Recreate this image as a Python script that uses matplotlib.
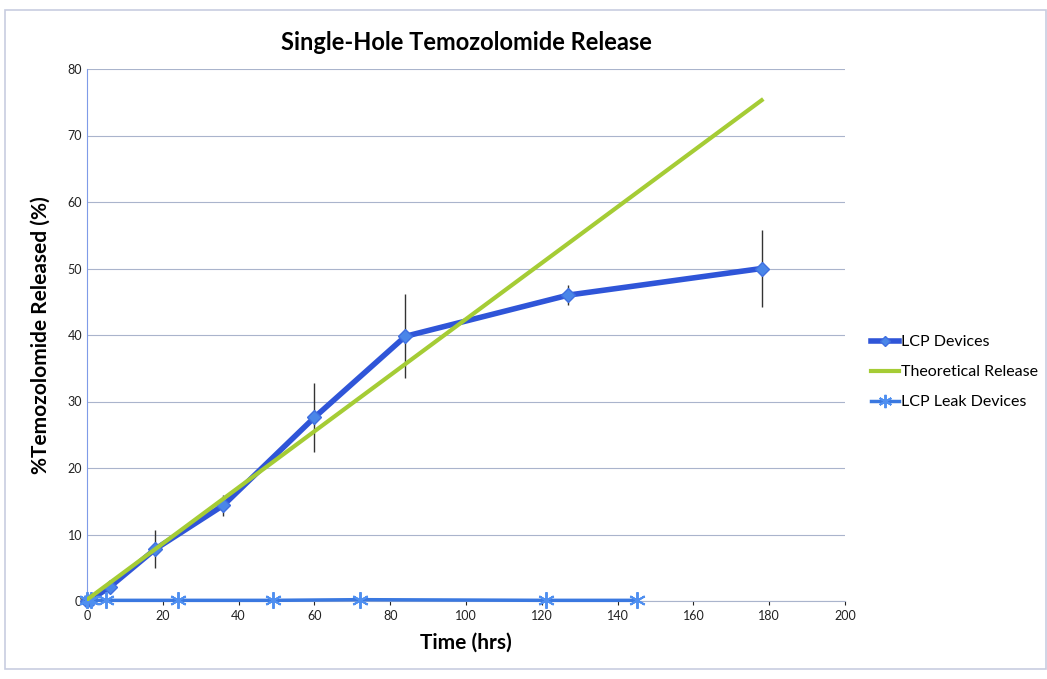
import matplotlib.pyplot as plt
from matplotlib.patches import Rectangle

# LCP devices (mean release with error bars)
lcp_time = [0, 1, 6, 18, 36, 60, 84, 127, 178]
lcp_release = [0.0, 0.2, 2.1, 7.8, 14.4, 27.6, 39.8, 46.0, 50.0]
lcp_err = [0.2, 0.3, 0.5, 2.9, 1.6, 5.2, 6.3, 1.5, 5.8]

# Theoretical release (straight line)
theory_time = [0, 178]
theory_release = [0.2, 75.3]

# LCP leak devices
leak_time = [0, 1, 5, 24, 49, 72, 121, 145]
leak_release = [0.1, 0.1, 0.1, 0.1, 0.1, 0.2, 0.1, 0.1]

x_ticks = [0, 20, 40, 60, 80, 100, 120, 140, 160, 180, 200]
y_ticks = [0, 10, 20, 30, 40, 50, 60, 70, 80]

plt.rcParams['font.family'] = ['Lato', 'DejaVu Sans']

fig = plt.figure(figsize=(10.47, 6.79), dpi=100)
ax = fig.add_axes([87 / 1047, 1 - 601 / 679, (845 - 87) / 1047, (601 - 69) / 679])

# outer frame like the spreadsheet chart border
fig.patches.append(Rectangle((5 / 1047, 10 / 679), 1 - 6 / 1047, 1 - 20 / 679,
                             transform=fig.transFigure, fill=False,
                             edgecolor='#c8cde0', linewidth=1.2))

ax.errorbar(lcp_time, lcp_release, yerr=lcp_err, fmt='none', ecolor='#333333',
            elinewidth=1.0, zorder=2)
ax.plot(lcp_time, lcp_release, color='#2f55d8', linewidth=4, marker='D',
        markersize=7, markerfacecolor='#4a86e8', markeredgecolor='#3f6fe0',
        label='LCP Devices', zorder=3, clip_on=False)
ax.plot(theory_time, theory_release, color='#a5cc35', linewidth=3,
        label='Theoretical Release', zorder=4)
ax.plot(leak_time, leak_release, color='#3a78e0', linewidth=2.5, marker=(6, 2, 0),
        markersize=12, markeredgewidth=1.4, markeredgecolor='#4f8ff0',
        label='LCP Leak Devices', zorder=3, clip_on=False)

ax.set_xlim(0, 200)
ax.set_ylim(0, 80)
ax.set_xticks(x_ticks)
ax.set_yticks(y_ticks)
ax.tick_params(axis='both', labelsize=9, colors='#222222', length=3)
ax.tick_params(axis='y', length=0)
ax.grid(axis='y', color='#aab4cc', linewidth=0.8)
ax.set_axisbelow(True)
for side in ['top', 'right']:
    ax.spines[side].set_visible(False)
ax.spines['left'].set_color('#7f9be8')
ax.spines['bottom'].set_color('#aab4cc')

ax.set_title('Single-Hole Temozolomide Release', fontsize=17, fontweight='bold', pad=14)
ax.set_xlabel('Time (hrs)', fontsize=15, fontweight='bold', labelpad=8)
ax.set_ylabel('%Temozolomide Released (%)', fontsize=15, fontweight='bold', labelpad=12)

leg = ax.legend(loc='center left', bbox_to_anchor=(1.015, 0.43), frameon=False,
                fontsize=11.5, handlelength=1.8, handletextpad=0.1, labelspacing=1.0,
                markerscale=0.8)

fig.savefig('out.png', dpi=100)
